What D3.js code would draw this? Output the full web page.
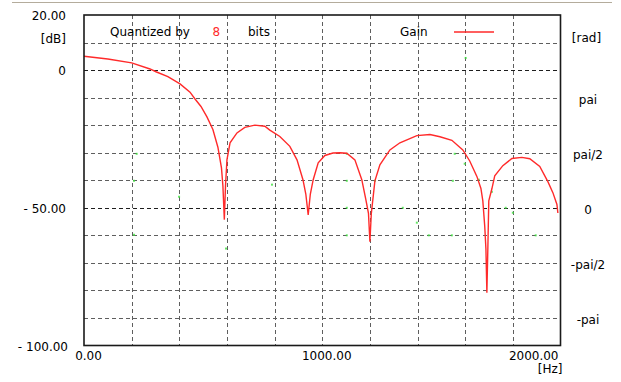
<!DOCTYPE html>
<html>
<head>
<meta charset="utf-8">
<script src="https://cdn.jsdelivr.net/npm/d3@7/dist/d3.min.js"></script>
<style>
  html, body { margin: 0; padding: 0; background: #fff; }
  svg { display: block; }
  text { font-family: "DejaVu Sans", Arial, sans-serif; font-size: 12px; fill: #000; }
</style>
</head>
<body>
<svg id="chart" width="621" height="382"></svg>
<script>
// Gain curve of the 8-bit quantized filter (Hz, dB)
const freqHz = [0, 100, 200, 277, 302, 352, 403, 445, 466, 491, 516, 541, 562, 577, 583, 589, 594, 600,
  613, 642, 675, 717, 759, 780, 822, 864, 894, 919, 931, 941, 950, 962, 983, 1011, 1045, 1074, 1103,
  1137, 1166, 1183, 1194, 1200, 1206, 1208, 1221, 1242, 1284, 1326, 1397, 1452, 1494, 1544, 1590,
  1619, 1649, 1666, 1674, 1682, 1687, 1691, 1695, 1699, 1712, 1724, 1758, 1796, 1838, 1871, 1913,
  1947, 1968, 1985, 1989];
const gainDb = [5.0, 4.0, 2.6, 0.4, -0.6, -2.4, -5.0, -8.0, -10.5, -13.2, -17.0, -21.6, -28.0, -35.5,
  -42.0, -54.3, -42.0, -32.6, -26.4, -22.8, -20.8, -20.0, -20.4, -21.8, -24.1, -27.7, -32.6, -39.8,
  -45.0, -52.6, -45.0, -39.8, -33.7, -31.0, -30.1, -30.0, -30.2, -32.6, -39.8, -47.0, -52.0, -62.3,
  -52.0, -50.5, -40.2, -34.4, -29.0, -26.4, -23.8, -23.4, -24.2, -25.5, -29.0, -33.0, -38.6, -43.0,
  -47.5, -56.7, -65.0, -80.8, -65.0, -47.5, -43.1, -38.4, -34.7, -32.1, -31.7, -32.2, -35.0, -40.5,
  -44.5, -48.8, -51.9];

// faint phase dots (Hz, multiples of pi)
const phaseHz = [210, 221, 210, 399, 596, 789, 1103, 1103, 1103, 1103, 1221, 1338, 1397, 1447, 1556,
  1598, 1548, 1657, 1712, 1770, 1800, 1544, 1896, 1602];
const phasePi = [-0.245, 0.49, 0.245, 0.1, -0.37, 0.21, 0.49, 0.245, 0, -0.25, 0.245, 0, -0.135, -0.25,
  0.49, 0.4, 0.245, 0.255, 0.145, 0, -0.045, -0.25, -0.25, 1.36];

// axis ticks
const xTickValues = [0, 1000, 2000];
const xTickLabels = ["0.00", "1000.00", "2000.00"];
const yTickValues = [20, 0, -50, -100];
const yTickLabels = ["20.00", "0", "- 50.00", "- 100.00"];
const radTickValues = [1, 0.5, 0, -0.5, -1];
const radTickLabels = ["pai", "pai/2", "0", "-pai/2", "-pai"];

const svg = d3.select("#chart");
const W = +svg.attr("width");
const H = +svg.attr("height");
const margin = { top: 15, right: 60.5, bottom: 36.5, left: 84 };
const pL = margin.left, pR = W - margin.right;
const pT = margin.top, pB = H - margin.bottom;

const x = d3.scaleLinear().domain([0, 2000]).range([pL, pR]);
const y = d3.scaleLinear().domain([-100, 20]).range([pB, pT]);
const yRad = d3.scaleLinear().domain([-1.25, 1.75]).range([pB, pT]);

// window border line at the top
svg.append("line")
  .attr("x1", 12).attr("x2", 612).attr("y1", 2.5).attr("y2", 2.5)
  .attr("stroke", "#b4ac9c").attr("stroke-width", 1);

// grid
const grid = svg.append("g");
d3.range(200, 2000, 200).forEach(v => {
  grid.append("line")
    .attr("x1", Math.round(x(v)) + 0.5).attr("x2", Math.round(x(v)) + 0.5)
    .attr("y1", pT).attr("y2", pB)
    .attr("stroke", "#5e5e5e").attr("stroke-dasharray", "4,3");
});
d3.range(-90, 20, 10).forEach(v => {
  const strong = (v === 0 || v === -50);
  grid.append("line")
    .attr("x1", pL).attr("x2", pR)
    .attr("y1", Math.round(y(v)) + 0.5).attr("y2", Math.round(y(v)) + 0.5)
    .attr("stroke", strong ? "#1e1e1e" : "#5e5e5e")
    .attr("stroke-width", strong ? 1.2 : 1)
    .attr("stroke-dasharray", "4,3");
});

// phase dots
svg.append("g").selectAll("rect")
  .data(phaseHz.map((f, i) => [f, phasePi[i]]))
  .enter().append("rect")
  .attr("x", d => x(d[0]) - 1).attr("y", d => yRad(d[1]) - 1)
  .attr("width", 2).attr("height", 2)
  .attr("fill", "#3ee03e").attr("opacity", 0.8);

// gain curve
const line = d3.line().x(d => x(d[0])).y(d => y(d[1]));
svg.append("path")
  .datum(freqHz.map((f, i) => [f, gainDb[i]]))
  .attr("fill", "none")
  .attr("stroke", "#ff2a2a")
  .attr("stroke-width", 1.4)
  .attr("d", line);

// frame
svg.append("rect")
  .attr("x", pL).attr("y", pT)
  .attr("width", pR - pL).attr("height", pB - pT)
  .attr("fill", "none").attr("stroke", "#1a1a1a").attr("stroke-width", 1.6);

// left axis labels
yTickValues.forEach((v, i) => {
  svg.append("text")
    .attr("x", v === -100 ? pL - 16 : pL - 18)
    .attr("y", y(v) + 5)
    .attr("text-anchor", "end")
    .text(yTickLabels[i]);
});
svg.append("text").attr("x", pL - 18).attr("y", 43).attr("text-anchor", "end").text("[dB]");

// bottom axis labels
xTickValues.forEach((v, i) => {
  const last = i === xTickValues.length - 1;
  svg.append("text")
    .attr("x", last ? x(v) - 2 : x(v) + 4.5)
    .attr("y", pB + 14)
    .attr("text-anchor", last ? "end" : "middle")
    .text(xTickLabels[i]);
});
svg.append("text").attr("x", pR + 2).attr("y", pB + 27.5).attr("text-anchor", "end").text("[Hz]");

// right axis labels (phase)
radTickValues.forEach((v, i) => {
  svg.append("text")
    .attr("x", pR + 27.5)
    .attr("y", yRad(v) + 6)
    .attr("text-anchor", "middle")
    .text(radTickLabels[i]);
});
svg.append("text").attr("x", pR + 26).attr("y", 41.5).attr("text-anchor", "middle").text("[rad]");

// header texts and legend
svg.append("text").attr("x", 110).attr("y", 36).text("Quantized by");
svg.append("text").attr("x", 212.5).attr("y", 36).style("fill", "#ff2a2a").text("8");
svg.append("text").attr("x", 248).attr("y", 36).text("bits");
svg.append("text").attr("x", 400).attr("y", 36).text("Gain");
svg.append("line")
  .attr("x1", 454).attr("x2", 494).attr("y1", 32).attr("y2", 32)
  .attr("stroke", "#ff2a2a").attr("stroke-width", 1.4);
</script>
</body>
</html>
